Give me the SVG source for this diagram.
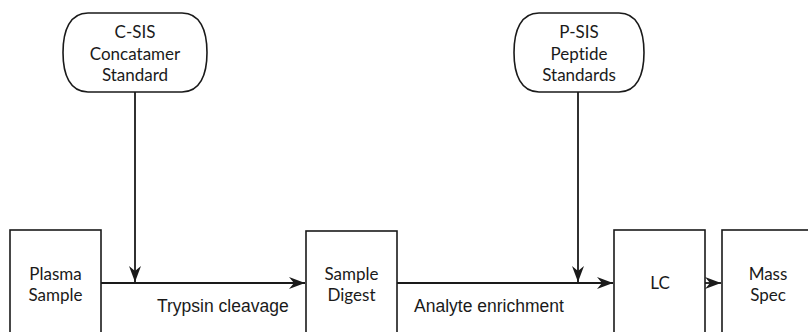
<svg xmlns="http://www.w3.org/2000/svg" width="808" height="332" viewBox="0 0 808 332">
<style>
.box{fill:#fff;stroke:#1a1a1a;stroke-width:1.6}
.term{fill:#fff;stroke:#1a1a1a;stroke-width:1.6}
.t{font-family:Lato,"Open Sans","Liberation Sans",sans-serif;font-size:17px;fill:#1a1a1a;text-anchor:middle;font-variant-ligatures:none}
.lbl{font-family:"Liberation Sans",Arial,sans-serif;font-size:17.5px;fill:#1a1a1a}
.conn{stroke:#1a1a1a;stroke-width:1.8;fill:none}
</style>
<defs>
<marker id="ah" markerUnits="userSpaceOnUse" markerWidth="17" markerHeight="13" refX="16" refY="6" orient="auto">
<path d="M0,0 L16,6 L0,12 L5,6 z" fill="#1a1a1a"/>
</marker>
</defs>
<rect width="808" height="332" fill="#fff"/>
<g id="csis">
<path class="term" d="M88,13 H182 C200,13 207,30 207,52.5 C207,75 200,92 182,92 H88 C70,92 63,75 63,52.5 C63,30 70,13 88,13 Z"/>
<text class="t" x="135" y="38">C-SIS</text>
<text class="t" x="135" y="60">Concatamer</text>
<text class="t" x="135" y="81">Standard</text>
</g>
<g id="psis">
<path class="term" d="M539,13 H619 C637,13 644,30 644,52.5 C644,75 637,92 619,92 H539 C521,92 514,75 514,52.5 C514,30 521,13 539,13 Z"/>
<text class="t" x="579" y="38">P-SIS</text>
<text class="t" x="579" y="60">Peptide</text>
<text class="t" x="579" y="81">Standards</text>
</g>
<g id="plasma">
<rect class="box" x="10" y="230" width="91" height="120"/>
<text class="t" x="55.5" y="280">Plasma</text>
<text class="t" x="55.5" y="301">Sample</text>
</g>
<g id="digest">
<rect class="box" x="306" y="231" width="91" height="120"/>
<text class="t" x="351.5" y="280">Sample</text>
<text class="t" x="351.5" y="301">Digest</text>
</g>
<g id="lc">
<rect class="box" x="614" y="230" width="91" height="120"/>
<text class="t" x="660" y="289">LC</text>
</g>
<g id="ms">
<rect class="box" x="722" y="230" width="120" height="120"/>
<text class="t" x="768" y="280">Mass</text>
<text class="t" x="768" y="301">Spec</text>
</g>
<g id="connectors">
<line class="conn" x1="101" y1="283" x2="305" y2="283" marker-end="url(#ah)"/>
<line class="conn" x1="397" y1="283" x2="613" y2="283" marker-end="url(#ah)"/>
<line class="conn" x1="705" y1="283" x2="721" y2="283" marker-end="url(#ah)"/>
<line class="conn" x1="135" y1="92" x2="135" y2="282" marker-end="url(#ah)"/>
<line class="conn" x1="578" y1="92" x2="578" y2="282" marker-end="url(#ah)"/>
<text class="lbl" x="157" y="312">Trypsin cleavage</text>
<text class="lbl" x="414" y="312">Analyte enrichment</text>
</g>
</svg>
